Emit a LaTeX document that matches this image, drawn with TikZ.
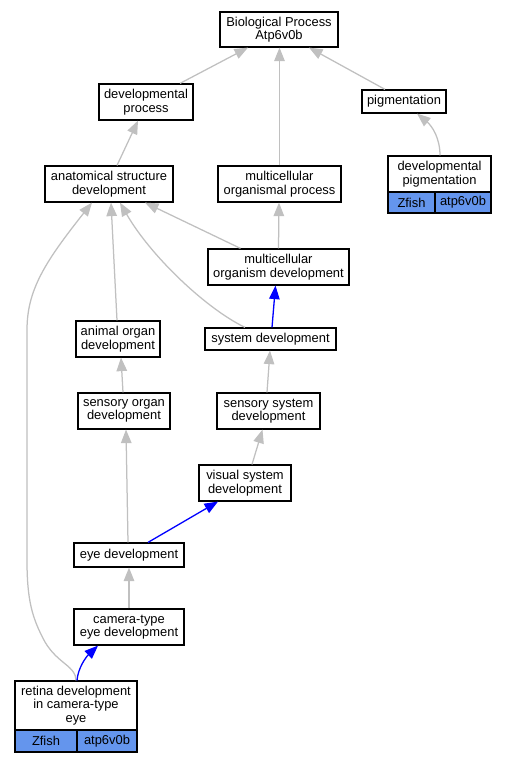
\documentclass[tikz,border=0pt]{standalone}
\usepackage{fontspec}
\setmainfont{Liberation Sans}
\usetikzlibrary{arrows.meta}
\definecolor{edgegray}{RGB}{192,192,192}
\definecolor{cellblue}{RGB}{100,149,237}
\begin{document}
\begin{tikzpicture}[x=1pt,y=-1pt,
  box/.style={draw=black,line width=1.2pt,fill=white,inner sep=0pt,align=center,
    font=\fontsize{12.9}{13.4}\selectfont},
  cell/.style={box,fill=cellblue},
  gedge/.style={draw=edgegray,line width=1.25pt,-{Triangle[length=13.5pt,width=10.5pt]}},
  bedge/.style={draw=blue,line width=1.3pt,-{Triangle[length=13.5pt,width=10.5pt]}}]
\fill[white] (0,0) rectangle (505,763);
\useasboundingbox (0,0) rectangle (505,763);

% nodes
\node[box,minimum width=118pt,minimum height=35pt] (bp) at (279,29.5) {Biological Process\\Atp6v0b};
\node[box,minimum width=94pt,minimum height=36pt] (dp) at (146,102) {developmental\\process};
\node[box,minimum width=84pt,minimum height=23pt] (pig) at (404,101.5) {pigmentation};
\node[box,minimum width=103pt,minimum height=36pt] (dpig) at (439.5,174) {developmental\\pigmentation};
\node[cell,minimum width=47pt,minimum height=21pt] (zf1) at (411.5,202.5) {Zfish};
\node[cell,minimum width=56pt,minimum height=21pt] (at1) at (463,202.5) {atp6v0b};
\node[box,minimum width=128pt,minimum height=36pt] (anat) at (109,184) {anatomical structure\\development};
\node[box,minimum width=123pt,minimum height=36pt] (mop) at (279.5,184) {multicellular\\organismal process};
\node[box,minimum width=141pt,minimum height=36pt] (mod) at (278.5,267) {multicellular\\organism development};
\node[box,minimum width=84pt,minimum height=36pt] (aod) at (118,339) {animal organ\\development};
\node[box,minimum width=131pt,minimum height=22pt] (sysd) at (270.5,339) {system development};
\node[box,minimum width=92pt,minimum height=36pt] (sod) at (124,411) {sensory organ\\development};
\node[box,minimum width=103pt,minimum height=36pt] (ssd) at (268.5,411) {sensory system\\development};
\node[box,minimum width=92pt,minimum height=36pt] (vsd) at (245,483) {visual system\\development};
\node[box,minimum width=110pt,minimum height=24pt] (eye) at (129,555) {eye development};
\node[box,minimum width=110pt,minimum height=36pt] (cam) at (129,627) {camera-type\\eye development};
\node[box,minimum width=122pt,minimum height=49pt] (ret) at (76,705.5) {retina development\\in camera-type\\eye};
\node[cell,minimum width=62pt,minimum height=22pt] (zf2) at (46,741) {Zfish};
\node[cell,minimum width=60pt,minimum height=22pt] (at2) at (107,741) {atp6v0b};

% edges
\draw[gedge] ([xshift=34pt]dp.north) -- ([xshift=-31pt]bp.south);
\draw[gedge] (mop.north) -- ([xshift=0.5pt]bp.south);
\draw[gedge] ([xshift=-19pt]pig.north) -- ([xshift=30pt]bp.south);
\draw[gedge] ([xshift=0.5pt]dpig.north) .. controls (440,138) and (432,126) .. ([xshift=13pt]pig.south);
\draw[gedge] ([xshift=8pt]anat.north) -- ([xshift=-8pt]dp.south);
\draw[gedge] (mod.north) -- ([xshift=-0.5pt]mop.south);
\draw[gedge] ([xshift=-38pt]mod.north) -- ([xshift=36pt]anat.south);
\draw[gedge] ([xshift=-25.5pt]sysd.north) .. controls (205,308) and (150,255) .. ([xshift=11pt]anat.south);
\draw[gedge] ([xshift=-1pt]aod.north) -- ([xshift=2pt]anat.south);
\draw[gedge] (ret.north) .. controls (76,666) and (58,664) .. (45,642)
  .. controls (32,618) and (27,600) .. (27,560) -- (27,330)
  .. controls (27,290) and (45,262) .. ([xshift=-17pt]anat.south);
\draw[bedge] ([xshift=1.5pt]sysd.north) -- ([xshift=-3pt]mod.south);
\draw[gedge] ([xshift=-1pt]sod.north) -- ([xshift=3pt]aod.south);
\draw[gedge] ([xshift=-1.5pt]ssd.north) -- ([xshift=-0.5pt]sysd.south);
\draw[gedge] ([xshift=7pt]vsd.north) -- ([xshift=-6pt]ssd.south);
\draw[gedge] ([xshift=-1pt]eye.north) -- ([xshift=2pt]sod.south);
\draw[bedge] ([xshift=19pt]eye.north) -- ([xshift=-27pt]vsd.south);
\draw[gedge] (cam.north) -- (eye.south);
\draw[bedge] ([xshift=1pt]ret.north) .. controls (78,668) and (86,657) .. ([xshift=-31pt]cam.south);
\end{tikzpicture}
\end{document}
